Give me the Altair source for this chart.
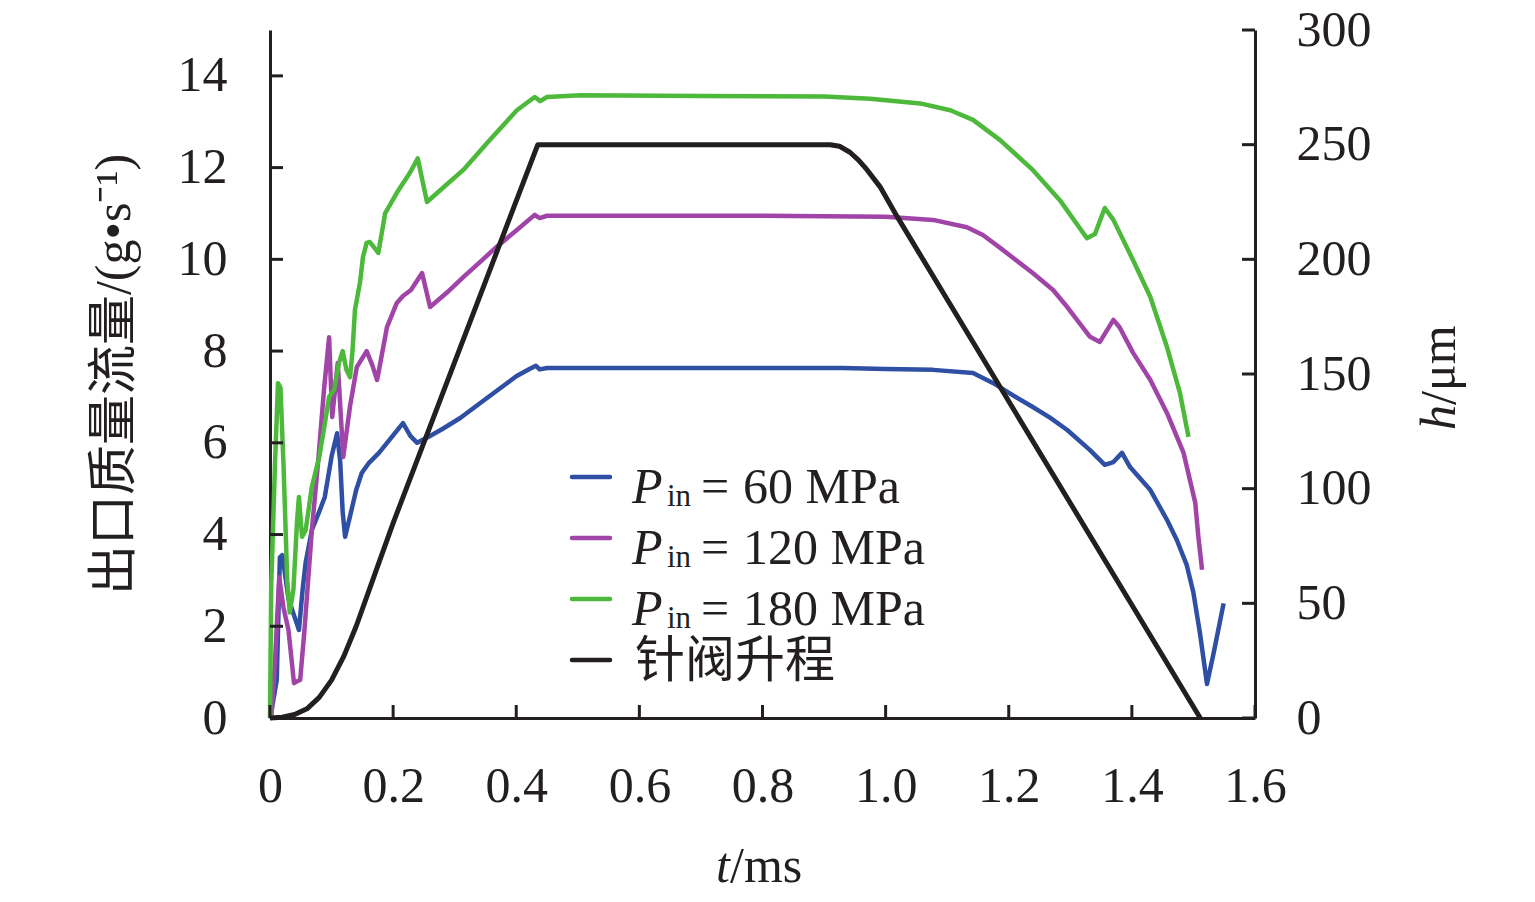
import altair as alt
import pandas as pd

# ---------------- data ----------------
series_names = ["60 MPa", "120 MPa", "180 MPa"]
series_colors = ["#2E4FA3", "#A044A8", "#4CB93B"]
lift_color = "#231F20"

t_60 = [0.003, 0.011, 0.016, 0.020, 0.030, 0.040, 0.047, 0.053, 0.058, 0.068, 0.080, 0.089,
        0.100, 0.109, 0.114, 0.118, 0.122, 0.130, 0.140, 0.149, 0.160, 0.177, 0.198, 0.216,
        0.228, 0.239, 0.260, 0.280, 0.309, 0.340, 0.370, 0.400, 0.423, 0.432, 0.438, 0.450,
        0.550, 0.700, 0.850, 0.930, 1.000, 1.077, 1.142, 1.175, 1.205, 1.239, 1.267, 1.295,
        1.332, 1.356, 1.370, 1.384, 1.397, 1.430, 1.457, 1.473, 1.489, 1.500, 1.511, 1.522,
        1.533, 1.549]
v_60 = [0.2, 0.83, 3.5, 3.55, 2.6, 2.2, 1.92, 2.8, 3.4, 4.1, 4.5, 4.82,
        5.7, 6.21, 5.6, 4.5, 3.95, 4.4, 4.97, 5.34, 5.55, 5.78, 6.13, 6.43,
        6.15, 6.0, 6.15, 6.3, 6.54, 6.85, 7.15, 7.45, 7.62, 7.68, 7.6, 7.63,
        7.63, 7.63, 7.63, 7.63, 7.61, 7.59, 7.52, 7.3, 7.05, 6.78, 6.55, 6.28,
        5.84, 5.52, 5.58, 5.78, 5.47, 4.97, 4.32, 3.88, 3.34, 2.73, 1.81, 0.74,
        1.43, 2.5]

t_120 = [0.002, 0.008, 0.015, 0.022, 0.030, 0.039, 0.044, 0.049, 0.056, 0.068, 0.078, 0.088,
         0.096, 0.101, 0.106, 0.110, 0.119, 0.130, 0.141, 0.157, 0.166, 0.174, 0.190, 0.206,
         0.216, 0.229, 0.247, 0.260, 0.287, 0.314, 0.341, 0.368, 0.401, 0.430, 0.438, 0.450,
         0.600, 0.800, 1.000, 1.077, 1.132, 1.158, 1.186, 1.239, 1.272, 1.295, 1.332, 1.348,
         1.370, 1.380, 1.402, 1.430, 1.457, 1.484, 1.503, 1.508, 1.514]
v_120 = [0.0, 1.2, 3.07, 2.4, 1.92, 0.76, 0.8, 0.83, 1.92, 4.1, 5.56, 7.2,
         8.3, 6.56, 7.2, 7.74, 5.69, 6.8, 7.65, 8.0, 7.7, 7.37, 8.52, 9.05,
         9.2, 9.33, 9.7, 8.96, 9.27, 9.61, 9.94, 10.27, 10.64, 10.97, 10.9, 10.95,
         10.95, 10.95, 10.93, 10.86, 10.7, 10.53, 10.25, 9.7, 9.33, 8.96, 8.31, 8.2,
         8.68, 8.52, 7.96, 7.37, 6.65, 5.78, 4.69, 3.95, 3.23]

t_180 = [0.000, 0.002, 0.008, 0.013, 0.017, 0.022, 0.028, 0.032, 0.038, 0.044, 0.047, 0.052,
         0.058, 0.068, 0.080, 0.090, 0.096, 0.104, 0.112, 0.118, 0.124, 0.130, 0.134, 0.138,
         0.146, 0.151, 0.157, 0.162, 0.176, 0.187, 0.206, 0.227, 0.240, 0.255, 0.276, 0.314,
         0.357, 0.401, 0.430, 0.439, 0.450, 0.504, 0.700, 0.900, 0.975, 1.056, 1.105, 1.142,
         1.186, 1.239, 1.283, 1.327, 1.340, 1.356, 1.370, 1.402, 1.430, 1.457, 1.478, 1.492]
v_180 = [0.0, 2.9, 5.5, 7.3, 7.2, 5.5, 3.0, 2.3, 2.8, 4.3, 4.82, 3.95,
         4.1, 5.04, 5.69, 6.5, 7.0, 7.15, 7.74, 8.0, 7.6, 7.43, 8.0, 8.9,
         9.48, 10.05, 10.36, 10.38, 10.14, 11.0, 11.45, 11.88, 12.2, 11.25, 11.5, 11.95,
         12.6, 13.25, 13.54, 13.45, 13.54, 13.58, 13.56, 13.55, 13.5, 13.4, 13.25, 13.04,
         12.6, 11.95, 11.29, 10.46, 10.55, 11.12, 10.86, 9.98, 9.18, 8.09, 7.09, 6.13]

t_lift = [0.0, 0.02, 0.04, 0.06, 0.08, 0.10, 0.12, 0.14, 0.16, 0.18, 0.20,
          0.435, 0.910, 0.925, 0.942, 0.956, 0.970, 0.991, 1.019, 1.186, 1.430, 1.511]
h_lift = [0.0, 0.3, 1.5, 4.0, 9.0, 16.5, 27.0, 40.0, 55.0, 70.0, 85.0,
          250.0, 250.0, 249.3, 246.7, 243.3, 239.0, 231.6, 218.5, 144.3, 36.0, 0.0]

x_ticks = [0, 0.2, 0.4, 0.6, 0.8, 1.0, 1.2, 1.4, 1.6]
left_ticks = [0, 2, 4, 6, 8, 10, 12, 14]
right_ticks = [0, 50, 100, 150, 200, 250, 300]

# ---------------- styling ----------------
W, H = 985, 688
SERIF = "Liberation Serif"
MIXED = "Liberation Serif, Noto Sans CJK SC"
INK = "#231F20"
FS = 50
TICK = 13

flow = pd.concat([
    pd.DataFrame({"t": t_60, "v": v_60, "series": series_names[0]}),
    pd.DataFrame({"t": t_120, "v": v_120, "series": series_names[1]}),
    pd.DataFrame({"t": t_180, "v": v_180, "series": series_names[2]}),
], ignore_index=True)
lift = pd.DataFrame({"t": t_lift, "h": h_lift})

x_axis = alt.Axis(values=x_ticks, labelExpr="datum.value == 0 ? '0' : format(datum.value, '.1f')",
                  title=None, ticks=False, tickSize=0, labelPadding=43, grid=False,
                  domainWidth=3, domainColor=INK, labelFont=SERIF, labelFontSize=FS,
                  labelColor=INK, labelFlush=False, labelOverlap=False)
x_enc = alt.X("t:Q", scale=alt.Scale(domain=[0, 1.6], nice=False, zero=False), axis=x_axis)

yl_axis = alt.Axis(values=left_ticks, format="d", title="出口质量流量/(g•s⁻¹)",
                   ticks=False, tickSize=0, labelPadding=43, grid=False,
                   domainWidth=3, domainColor=INK, labelFont=SERIF, labelFontSize=FS,
                   labelColor=INK, labelFlush=False, titleFont=MIXED, titleFontSize=50,
                   titleFontWeight="normal", titleColor=INK, titlePadding=38)
yl_enc = alt.Y("v:Q", scale=alt.Scale(domain=[0, 15], nice=False, zero=False), axis=yl_axis)

yr_axis = alt.Axis(values=right_ticks, format="d", title=None, orient="right",
                   ticks=False, tickSize=0, labelPadding=41, grid=False,
                   domainWidth=3, domainColor=INK, labelFont=SERIF, labelFontSize=FS,
                   labelColor=INK, labelFlush=False)
yr_enc = alt.Y("h:Q", scale=alt.Scale(domain=[0, 300], nice=False, zero=False), axis=yr_axis)

one = alt.Data(values=[{}])


def txt(s, x, y, size=FS, style="normal", font=SERIF, align="left", angle=0):
    return alt.Chart(one).mark_text(
        text=s, font=font, fontSize=size, fontStyle=style, align=align,
        baseline="alphabetic", color=INK, angle=angle,
    ).encode(x=alt.value(x), y=alt.value(y))


def legend_line(color, y):
    return alt.Chart(one).mark_rule(color=color, strokeWidth=4.5, strokeCap="round").encode(
        x=alt.value(302), x2=alt.value(340), y=alt.value(y))


flow_lines = alt.Chart(flow).mark_line(strokeWidth=4.5, strokeJoin="round").encode(
    x=x_enc, y=yl_enc,
    color=alt.Color("series:N", scale=alt.Scale(domain=series_names, range=series_colors), legend=None),
)

bottom_ticks = alt.Chart(pd.DataFrame({"t": x_ticks})).mark_rule(color=INK, strokeWidth=3).encode(
    x=x_enc, y=alt.value(H), y2=alt.value(H - TICK))
left_tick_marks = alt.Chart(pd.DataFrame({"v": left_ticks})).mark_rule(color=INK, strokeWidth=3).encode(
    y=yl_enc, x=alt.value(0), x2=alt.value(TICK))

legend_rows = [447, 508, 569, 630]
legend_layers = []
for name, col, ly in zip(series_names, series_colors, legend_rows[:3]):
    base = ly + 26
    legend_layers += [
        legend_line(col, ly),
        txt("P", 362, base, style="italic"),
        txt("in", 397, base + 3, size=31),
        txt("=", 445, base, align="center"),
        txt(name, 473, base),
    ]
legend_layers += [legend_line(lift_color, legend_rows[3]),
                  txt("针阀升程", 365, legend_rows[3] + 17, font=MIXED)]

titles = [
    txt("t", 446, 852, style="italic"),
    txt("/ms", 460, 852),
    txt("h", 1185, 400, style="italic", angle=270),
    txt("/μm", 1185, 375, angle=270),
]

left_layer = alt.layer(flow_lines, bottom_ticks, left_tick_marks, *legend_layers, *titles)

lift_line = alt.Chart(lift).mark_line(color=lift_color, strokeWidth=5, strokeJoin="round").encode(
    x=x_enc, y=yr_enc)
right_tick_marks = alt.Chart(pd.DataFrame({"h": right_ticks})).mark_rule(color=INK, strokeWidth=3).encode(
    y=yr_enc, x=alt.value(W - TICK), x2=alt.value(W))

right_layer = alt.layer(lift_line, right_tick_marks)

chart = alt.layer(left_layer, right_layer).resolve_scale(y="independent").properties(
    width=W, height=H,
    padding={"left": 262, "top": 22, "right": 270, "bottom": 175},
    autosize=alt.AutoSizeParams(type="none"),
    background="white",
).configure_view(stroke=None)

chart.save("out.html", embed_options={"renderer": "svg", "actions": False})
